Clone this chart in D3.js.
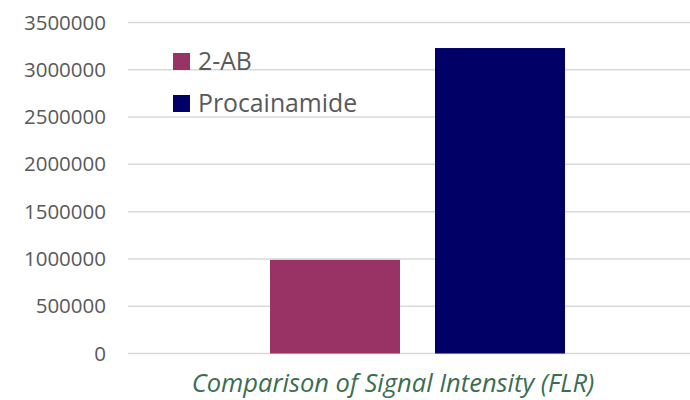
<!DOCTYPE html>
<html>
<head>
<meta charset="utf-8">
<script src="https://cdn.jsdelivr.net/npm/d3@7"></script>
<style>
  html, body { margin: 0; padding: 0; background: #fff; }
  svg { display: block; }
</style>
</head>
<body>
<svg id="chart" width="690" height="400"></svg>
<script>
// Fluorescence signal intensity for two glycan labels
const categories = ["Comparison of Signal Intensity (FLR)"];
const seriesNames = ["2-AB", "Procainamide"];
const seriesValues = [990000, 3230000];
const seriesColors = ["#993366", "#000066"];
const yTicks = [0, 500000, 1000000, 1500000, 2000000, 2500000, 3000000, 3500000];

const svg = d3.select("#chart");
const font = "'Open Sans', sans-serif";

const plot = { left: 128, right: 707, top: 22.5, bottom: 353.5 };

const y = d3.scaleLinear()
  .domain([0, 3500000])
  .range([plot.bottom, plot.top]);

const x0 = d3.scaleBand()
  .domain(categories)
  .range([plot.left, plot.right])
  .paddingInner(0)
  .paddingOuter(0.4814);

const x1 = d3.scaleBand()
  .domain(seriesNames)
  .range([0, x0.bandwidth()])
  .paddingInner(0.2121)
  .paddingOuter(0);

// horizontal gridlines
svg.append("g")
  .selectAll("line")
  .data(yTicks)
  .join("line")
  .attr("x1", plot.left)
  .attr("x2", plot.right)
  .attr("y1", d => y(d))
  .attr("y2", d => y(d))
  .attr("stroke", "#d9d9d9")
  .attr("stroke-width", 1.5);

// y axis labels
const yAxis = d3.axisLeft(y).tickValues(yTicks).tickFormat(d3.format("d")).tickSize(0).tickPadding(0);
const yg = svg.append("g")
  .attr("transform", `translate(106,0)`)
  .call(yAxis);
yg.select(".domain").remove();
yg.selectAll("text")
  .attr("fill", "#595959")
  .attr("font-family", font)
  .attr("font-size", 20.5);

// bars
const rows = seriesNames.map((name, i) => ({ cat: categories[0], name, value: seriesValues[i], color: seriesColors[i] }));
svg.append("g")
  .selectAll("rect")
  .data(rows)
  .join("rect")
  .attr("x", d => x0(d.cat) + x1(d.name))
  .attr("width", x1.bandwidth())
  .attr("y", d => y(d.value))
  .attr("height", d => y(0) - y(d.value))
  .attr("fill", d => d.color);

// category title
svg.append("text")
  .attr("x", 393)
  .attr("y", 392)
  .attr("text-anchor", "middle")
  .attr("font-family", font)
  .attr("font-style", "italic")
  .attr("font-size", 25.5)
  .attr("fill", "#3b6e50")
  .text(categories[0]);

// legend
const legend = svg.append("g")
  .selectAll("g")
  .data(rows)
  .join("g")
  .attr("transform", (d, i) => `translate(173,${53 + i * 42})`);
legend.append("rect")
  .attr("width", 17)
  .attr("height", 17)
  .attr("fill", d => d.color);
legend.append("text")
  .attr("x", 25)
  .attr("y", 8.5)
  .attr("dy", "0.36em")
  .attr("font-family", font)
  .attr("font-size", 24.8)
  .attr("fill", "#595959")
  .text(d => d.name);
</script>
</body>
</html>
